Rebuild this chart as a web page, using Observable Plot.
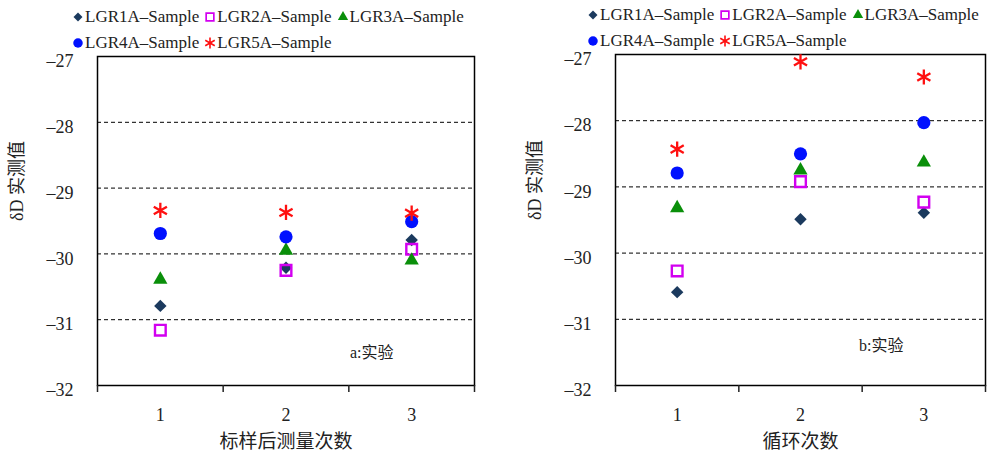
<!DOCTYPE html>
<html>
<head>
<meta charset="utf-8">
<script src="https://cdn.jsdelivr.net/npm/d3@7"></script>
<script src="https://cdn.jsdelivr.net/npm/@observablehq/plot@0.6"></script>
<style>
  body { margin: 0; background: #fff; }
  #wrap { display: flex; width: 992px; height: 455px; }
  .panel { position: relative; width: 496px; height: 455px; }
  .legend { position: absolute; display: flex; flex-wrap: wrap; font-family: "Liberation Serif", "Times New Roman", Times, "DejaVu Serif", serif; font-size: 17px; color: #222; }
  .legend .item { display: flex; align-items: center; height: 26px; margin-right: 5px; white-space: nowrap; }
  .legend svg { margin-right: 1px; }
</style>
</head>
<body>
<div id="wrap"></div>
<script>
// ---- data ----
const series = ["LGR1A–Sample", "LGR2A–Sample", "LGR3A–Sample", "LGR4A–Sample", "LGR5A–Sample"];
const runs = [1, 2, 3];
// panel a: 标样后测量次数
const aLGR1 = [-30.79, -30.21, -29.79];
const aLGR2 = [-31.16, -30.25, -29.93];
const aLGR3 = [-30.39, -29.95, -30.10];
const aLGR4 = [-29.69, -29.74, -29.51];
const aLGR5 = [-29.34, -29.37, -29.38];
// panel b: 循环次数
const bLGR1 = [-30.59, -29.49, -29.39];
const bLGR2 = [-30.27, -28.92, -29.23];
const bLGR3 = [-29.32, -28.75, -28.63];
const bLGR4 = [-28.79, -28.50, -28.03];
const bLGR5 = [-28.43, -27.11, -27.34];
const yTicks = [-32, -31, -30, -29, -28, -27];
const gridTicks = [-31, -30, -29, -28];
const xBounds = [0.5, 1.5, 2.5, 3.5];

const serif = "'Liberation Serif', 'Times New Roman', Times, 'DejaVu Serif', serif";

// ---- styles ----
const styles = [
  {symbol: "diamond2", fill: "#1b3a5e", stroke: "none", r: 5.6, strokeWidth: 0},
  {symbol: "square2", fill: "none", stroke: "#d200f0", r: 6.8, strokeWidth: 2.4},
  {symbol: "triangle", fill: "#0a8f0a", stroke: "none", r: 5.3, strokeWidth: 0},
  {symbol: "circle", fill: "#0010ff", stroke: "none", r: 6.6, strokeWidth: 0},
  {symbol: "asterisk", fill: "none", stroke: "#ff1010", r: 7.2, strokeWidth: 2.3}
];
const d3sym = {diamond2: d3.symbolDiamond2, square2: d3.symbolSquare2, triangle: d3.symbolTriangle, circle: d3.symbolCircle, asterisk: d3.symbolAsterisk};

function makeLegend(left, top, width) {
  const div = document.createElement("div");
  div.className = "legend";
  div.style.left = left + "px";
  div.style.top = top + "px";
  div.style.width = width + "px";
  series.forEach((name, i) => {
    const s = styles[i];
    const item = document.createElement("div");
    item.className = "item";
    const sz = 12;
    const svg = d3.create("svg").attr("width", sz).attr("height", sz).attr("viewBox", `${-sz/2} ${-sz/2} ${sz} ${sz}`);
    const rr = s.r * 0.72;
    svg.append("path")
      .attr("d", d3.symbol(d3sym[s.symbol], Math.PI * rr * rr)())
      .attr("fill", s.fill).attr("stroke", s.stroke).attr("stroke-width", s.strokeWidth * 0.7);
    item.appendChild(svg.node());
    const t = document.createElement("span");
    t.textContent = name;
    item.appendChild(t);
    div.appendChild(item);
  });
  return div;
}

function makePanel(vals, xlabel, note, m) {
  const marks = [
    Plot.gridY(gridTicks, {stroke: "#000", strokeOpacity: 1, strokeDasharray: "4,3", strokeWidth: 1}),
    Plot.frame({stroke: "#000", strokeWidth: 1.5}),
    Plot.axisY(yTicks, {tickSize: 0, tickPadding: m.yPad, fontSize: 18, dy: 5, tickFormat: d => "–" + Math.abs(d), label: null, fontFamily: serif}),
    Plot.axisX(runs, {tickSize: 0, tickPadding: 23, fontSize: 18, label: null, tickFormat: d => String(d), fontFamily: serif}),
    Plot.axisX(xBounds, {tickSize: 7, tickFormat: () => "", label: null, strokeWidth: 1.5}),
    Plot.text([xlabel], {frameAnchor: "bottom", dy: 62, fontSize: 19, fill: "#222", fontFamily: "'Noto Sans CJK SC'"}),
    Plot.text(["δD 实测值"], {frameAnchor: "left", rotate: -90, dx: -m.ylabOff, dy: 0, fontSize: 18, fill: "#222", fontFamily: serif + ", 'Noto Sans CJK SC'"}),
    Plot.text([note], {frameAnchor: "bottom-right", textAnchor: "end", dx: m.noteDx, dy: m.noteDy, fontSize: 16, fill: "#222", fontFamily: serif.replace(", serif", "") + ", 'Noto Sans CJK SC'"})
  ];
  vals.forEach((arr, i) => {
    const s = styles[i];
    marks.push(Plot.dot(runs.map((r, j) => ({run: r, v: arr[j]})), {
      x: "run", y: "v", symbol: s.symbol, fill: s.fill, stroke: s.stroke, r: s.r, strokeWidth: s.strokeWidth
    }));
  });
  return Plot.plot({
    width: 496, height: 455,
    marginLeft: m.left, marginRight: m.right, marginTop: m.top, marginBottom: 70,
    x: {domain: [0.5, 3.5], axis: null},
    y: {domain: [-32, -27], axis: null},
    style: {fontFamily: serif, color: "#222", background: "#fff"},
    marks
  });
}

const wrap = document.getElementById("wrap");
const panels = [
  {vals: [aLGR1, aLGR2, aLGR3, aLGR4, aLGR5], xlabel: "标样后测量次数", note: "a:实验",
   m: {left: 97, right: 22, top: 56, yPad: 24, ylabOff: 80, noteDx: -81, noteDy: -28}, leg: [72, 4]},
  {vals: [bLGR1, bLGR2, bLGR3, bLGR4, bLGR5], xlabel: "循环次数", note: "b:实验",
   m: {left: 119, right: 7, top: 54, yPad: 24, ylabOff: 80, noteDx: -82, noteDy: -35}, leg: [91, 2]}
];
panels.forEach(p => {
  const div = document.createElement("div");
  div.className = "panel";
  div.appendChild(makePanel(p.vals, p.xlabel, p.note, p.m));
  div.appendChild(makeLegend(p.leg[0], p.leg[1], 420));
  wrap.appendChild(div);
});
</script>
</body>
</html>
